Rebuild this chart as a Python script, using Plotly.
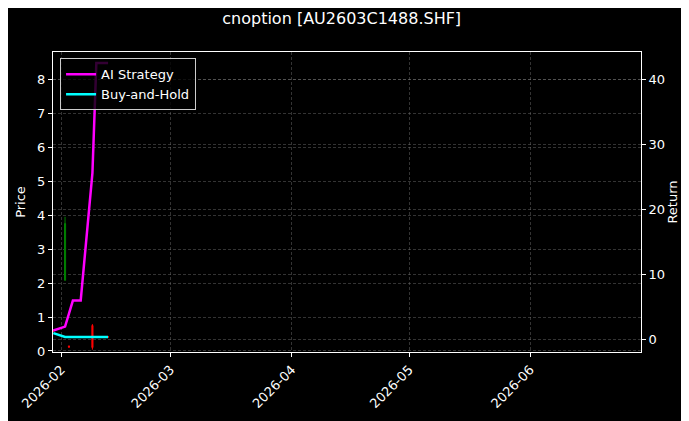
import plotly.graph_objects as go

# trading days
dates = ["2026-01-30", "2026-02-02", "2026-02-03", "2026-02-04", "2026-02-05",
         "2026-02-06", "2026-02-09", "2026-02-10", "2026-02-11", "2026-02-12",
         "2026-02-13"]

# option prices (OHLC)
open_px = [0.60, 2.08, 0.15, 0.42, 0.42, 0.42, 0.75, 0.42, 0.42, 0.42, 0.42]
high_px = [0.61, 3.95, 0.15, 0.43, 0.43, 0.43, 0.79, 0.43, 0.43, 0.43, 0.43]
low_px = [0.57, 2.08, 0.10, 0.40, 0.40, 0.40, 0.04, 0.40, 0.40, 0.40, 0.40]
close_px = [0.58, 3.75, 0.11, 0.41, 0.41, 0.41, 0.10, 0.41, 0.41, 0.41, 0.41]

# cumulative returns
ai_return = [1.4, 2.0, 4.0, 6.0, 6.0, 6.0, 25.6, 42.5, 42.5, 42.5, 42.5]
bh_return = [1.0, 0.4, 0.4, 0.4, 0.4, 0.4, 0.4, 0.4, 0.4, 0.4, 0.4]

font = "DejaVu Sans"
grid = "rgba(128,128,128,0.4)"

fig = go.Figure()
fig.add_trace(go.Candlestick(
    x=dates, open=open_px, high=high_px, low=low_px, close=close_px,
    increasing=dict(line=dict(color="green", width=1), fillcolor="green"),
    decreasing=dict(line=dict(color="red", width=1), fillcolor="red"),
    whiskerwidth=0, showlegend=False, yaxis="y",
))
fig.add_trace(go.Scatter(x=dates, y=ai_return, name="AI Strategy", mode="lines",
                         line=dict(color="#ff00ff", width=2.5), yaxis="y2"))
fig.add_trace(go.Scatter(x=dates, y=bh_return, name="Buy-and-Hold", mode="lines",
                         line=dict(color="#00ffff", width=2.5), yaxis="y2"))

axis_common = dict(showline=True, linecolor="white", linewidth=1,
                   ticks="outside", tickcolor="white", ticklen=4,
                   tickfont=dict(color="white", size=13, family=font),
                   gridcolor=grid, griddash="3px,2px", gridwidth=0.5,
                   zeroline=False, automargin=False)

# page body has an 8px margin, so the figure is a bit smaller
fig.update_layout(
    width=681, height=413,
    paper_bgcolor="black", plot_bgcolor="black",
    margin=dict(l=45, r=48, t=44, b=69, autoexpand=False),
    boxgap=0.6,
    title=dict(text="cnoption [AU2603C1488.SHF]", x=0.49, xanchor="center",
               y=0.976, yanchor="middle",
               font=dict(color="white", size=16, family=font)),
    xaxis=dict(type="date", range=["2026-01-29 22:00", "2026-06-29 07:00"],
               dtick="M1", tick0="2026-02-01", tickformat="%Y-%m", tickangle=-45,
               mirror=True, rangeslider=dict(visible=False), **axis_common),
    yaxis=dict(range=[-0.03, 8.8], dtick=1, tick0=0, mirror=True,
               title=dict(text="Price", font=dict(color="white", size=13, family=font),
                          standoff=8),
               **axis_common),
    yaxis2=dict(range=[-1.9, 44.2], dtick=10, tick0=0, overlaying="y", side="right",
                title=dict(text="Return", font=dict(color="white", size=13, family=font),
                           standoff=2),
                **axis_common),
    legend=dict(x=0.012, y=0.979, xanchor="left", yanchor="top",
                bgcolor="rgba(0,0,0,0.8)", bordercolor="#cccccc", borderwidth=1,
                font=dict(color="white", size=13, family=font),
                itemwidth=30, tracegroupgap=0),
    showlegend=True,
)

fig.write_html("out.html")
